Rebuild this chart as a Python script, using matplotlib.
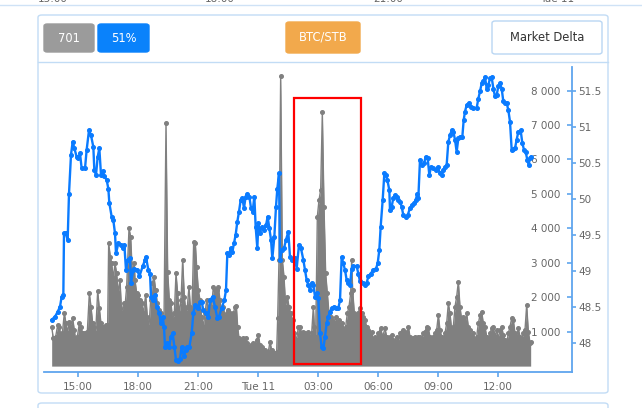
import matplotlib
matplotlib.use('Agg')
import matplotlib.pyplot as plt
import matplotlib.dates as mdates
from matplotlib.patches import FancyBboxPatch, Rectangle
from matplotlib.lines import Line2D
from datetime import datetime, timedelta

plt.rcParams['font.family'] = ['DejaVu Sans']

# ---------------- data ----------------
start = datetime(2024, 6, 10, 13, 40)

price_min = [1,11,19,26,31,36,38,43,49,53,59,64,69,76,81,86,91,101,106,113,119,126,129,134,139,144,149,154,159,166,171,174,181,186,191,194,201,209,214,219,224,229,236,239,246,
248,258,264,274,281,284,291,296,299,306,311,316,324,328,334,338,341,346,354,358,364,369,374,381,386,391,398,403,408,414,421,426,431,436,441,446,451,456,464,471,476,484,491,498,
503,511,519,524,528,533,538,543,548,553,558,563,568,573,578,583,588,594,599,604,609,613,618,621,626,631,638,644,649,654,659,663,669,674,678,683,686,691,698,704,711,716,723,731,736,743,749,
756,761,766,771,776,781,786,791,796,801,806,811,816,821,826,831,836,841,848,854,861,866,871,876,881,886,891,896,901,906,916,921,926,934,941,946,951,958,966,974,979,984,988,994,999,1004,1008,1014,
1016,1021,1026,1031,1036,1041,1046,1051,1056,1063,1069,1076,1081,1088,1093,1098,1101,1106,1111,1118,1123,1129,1134,1139,1146,1153,1159,1166,1171,1176,1181,1186,1191,1196,1201,1206,1211,1216,1221,1226,1233,1237,1241,1246,1253,1259,1266,1276,
1281,1286,1291,1296,1301,1306,1311,1316,1321,1326,1331,1336,1341,1346,1351,1356,1361,1366,1371,1376,1381,1386,1391,1396,1401,1408,1413,1418,1423,1428,1432,1436,1439]

price_val = [48.32,48.36,48.43,48.50,48.64,48.66,49.52,49.52,49.43,50.07,50.61,50.79,50.70,50.58,50.56,50.63,50.42,50.42,50.68,50.95,50.88,50.72,50.40,50.33,50.58,50.70,50.33,50.38,50.31,50.26,50.14,49.94,49.75,49.70,49.52,49.24,49.38,49.36,49.31,49.36,49.01,49.15,49.17,48.83,49.01,
49.03,49.01,48.92,49.06,49.15,49.19,49.01,48.96,48.64,48.59,48.66,48.50,48.41,48.27,48.36,48.22,47.94,47.99,47.94,48.08,48.13,47.94,47.76,47.74,47.78,47.94,47.81,47.90,47.94,47.94,48.13,48.41,48.52,48.50,48.48,48.57,48.57,48.45,48.41,48.36,48.59,48.64,48.50,48.34,
48.36,48.48,48.59,48.73,49.24,49.22,49.31,49.26,49.38,49.50,49.68,49.82,49.98,50.01,49.87,50.03,50.07,50.03,49.87,49.82,50.03,49.61,49.31,49.66,49.52,49.61,49.57,49.63,49.75,49.59,49.43,49.17,49.47,49.89,50.14,50.35,49.15,49.29,49.31,49.43,49.54,49.19,49.15,49.17,49.03,49.36,49.31,
49.15,49.01,48.87,48.80,48.73,48.83,48.80,48.64,48.69,48.62,48.13,47.94,47.92,48.08,48.27,48.36,48.43,48.48,48.50,48.48,48.48,48.59,49.19,49.10,49.01,48.87,48.83,48.80,49.03,49.06,49.06,48.96,48.85,48.83,48.80,48.83,48.92,48.96,49.01,49.03,49.10,49.29,49.61,49.98,50.35,50.33,50.26,50.12,
49.84,49.89,50.01,50.05,50.03,49.98,49.96,49.89,49.77,49.75,49.77,49.87,49.91,49.94,49.98,50.07,50.01,50.54,50.47,50.49,50.58,50.56,50.33,50.44,50.42,50.40,50.44,50.35,50.33,50.40,50.44,50.47,50.79,50.88,50.95,50.93,50.82,50.65,50.84,50.86,50.86,51.09,51.21,51.30,51.33,51.28,51.26,51.26,
51.39,51.49,51.60,51.63,51.69,51.53,51.58,51.67,51.69,51.53,51.42,51.44,51.56,51.60,51.53,51.35,51.33,51.33,51.23,51.07,50.68,50.69,50.70,50.82,50.93,50.95,50.77,50.68,50.65,50.54,50.47,50.56,50.58]

vol_min = [1,6,13,19,24,29,33,39,44,49,53,58,64,69,73,78,84,89,94,101,108,114,119,124,129,133,139,144,149,156,163,169,172,177,181,186,191,196,201,206,211,217,221,226,233,238,243,249,
251,256,261,266,271,276,283,288,293,298,303,308,313,318,323,328,333,338,344,349,354,359,364,369,374,379,384,389,394,399,404,408,413,417,422,427,432,436,441,446,451,456,461,466,471,476,481,486,
491,496,501,506,511,516,521,526,531,536,541,546,551,555,559,563,569,576,583,588,594,599,604,609,616,621,626,631,636,641,646,651,656,661,666,671,676,679,683,688,693,698,703,708,713,718,724,729,736,741,
746,751,756,761,766,771,776,781,786,789,793,798,803,808,813,818,823,828,833,838,843,848,853,858,863,868,873,878,883,888,893,898,901,904,909,914,919,926,931,936,941,946,951,956,961,966,971,976,981,988,994,
1001,1006,1011,1016,1021,1026,1031,1036,1041,1046,1051,1056,1061,1066,1071,1076,1081,1086,1091,1096,1101,1106,1111,1116,1121,1126,1131,1136,1141,1146,1151,1156,1161,1166,1171,1176,1181,1186,1191,1196,1201,1206,1211,1216,1221,1226,1231,1236,1241,1246,1251,
1256,1261,1266,1271,1276,1281,1286,1291,1296,1301,1306,1311,1316,1321,1326,1331,1336,1341,1346,1351,1356,1361,1366,1371,1376,1381,1386,1391,1396,1401,1406,1411,1416,1421,1426,1431,1436,1438]

vol_val = [1145,806,854,1193,1145,854,951,1532,1242,951,1290,1145,1387,1048,758,854,1242,1145,951,951,1000,2113,1726,1242,1145,951,2181,1677,1242,1145,1193,1193,3565,3178,2984,2549,2984,2694,2113,2500,1532,1823,1726,2307,3999,3759,2694,2984,
2500,2113,2065,1919,1823,1532,2065,1435,1145,1919,2404,2597,2210,1823,1629,1532,1339,1339,7069,2742,1919,1823,1339,1532,2694,2113,1532,1919,3081,2016,1532,1726,2307,1726,1629,3613,3565,2887,2210,1919,1435,1145,1532,1919,1629,1919,1726,2307,
2200,2210,2307,1919,1532,1726,1435,1532,1629,1532,1435,1532,1726,1745,1145,806,758,806,806,661,564,613,661,613,758,903,613,564,467,467,371,419,709,467,371,371,419,1387,3081,8424,3081,2597,1726,2016,1726,1532,1339,951,758,1145,
1145,951,1000,951,854,1000,854,951,1726,1145,854,4339,4823,5114,7369,4630,2694,2113,1532,1435,1339,1242,1435,1242,1339,1145,1242,1048,1145,1532,1726,2113,3081,2210,1532,1435,1532,1677,1532,1435,1339,1145,1048,951,1000,758,854,806,951,1097,854,
1097,854,758,854,903,758,709,854,709,951,1000,1048,1000,951,1145,854,758,806,854,806,854,854,758,951,1000,1145,1097,854,709,854,951,1048,1484,1048,854,806,951,1242,1823,1532,1048,1145,1726,2016,2452,1726,1339,1435,1242,1532,1145,
1048,854,951,758,854,1242,1484,1581,1242,1145,854,758,951,1097,1145,854,1048,806,1048,1145,903,758,661,951,1145,1387,1339,951,854,1097,854,758,951,1048,1774,1000,681,710]

vol_ticks = [1000, 2000, 3000, 4000, 5000, 6000, 7000, 8000]
vol_tick_labels = ["1 000", "2 000", "3 000", "4 000", "5 000", "6 000", "7 000", "8 000"]
price_ticks = [48, 48.5, 49, 49.5, 50, 50.5, 51, 51.5]
price_tick_labels = ["48", "48.5", "49", "49.5", "50", "50.5", "51", "51.5"]
x_tick_min = [80, 260, 440, 620, 800, 980, 1160, 1340]
x_tick_labels = ["15:00", "18:00", "21:00", "Tue 11", "03:00", "06:00", "09:00", "12:00"]
buttons = ["701", "51%", "BTC/STB", "Market Delta"]
top_labels = ["15:00", "18:00", "21:00", "Tue 11"]

# ---------------- figure ----------------
W, H = 642, 408
fig = plt.figure(figsize=(W / 100, H / 100), dpi=100)

def fx(px):
    return px / W

def fy(py):
    return 1 - py / H

blue_axis = '#5fa5ee'
grey_txt = '#666666'
card_ec = '#c2dcf5'

def tm(m):
    return [start + timedelta(minutes=x) for x in m]

# cards
card = FancyBboxPatch((fx(38), fy(393)), fx(608 - 38), (393 - 15) / H,
                      boxstyle='round,pad=0,rounding_size=0.006', transform=fig.transFigure,
                      fc='white', ec=card_ec, lw=1.0, zorder=-5)
fig.patches.append(card)
card2 = FancyBboxPatch((fx(38), fy(425)), fx(608 - 38), (425 - 403) / H,
                       boxstyle='round,pad=0,rounding_size=0.006', transform=fig.transFigure,
                       fc='white', ec=card_ec, lw=1.0, zorder=-5)
fig.patches.append(card2)
fig.add_artist(Line2D([fx(38), fx(608)], [fy(62), fy(62)], transform=fig.transFigure,
                      color=card_ec, lw=1.0, zorder=-4))

# remnant of previous chart at very top (cut off by the frame, as in the reference)
fig.add_artist(Line2D([0, 1], [fy(5), fy(5)], transform=fig.transFigure, color='#cfe2f6', lw=1.0))
for lab, px in zip(top_labels, [53, 220, 388, 557]):
    fig.text(fx(px), fy(2.3), lab, ha='center', va='baseline', fontsize=7.5, color=grey_txt)

# buttons
btn_geom = [(44, 24, 94, 52, '#9b9b9b', 'white', None),
            (98, 24, 149, 52, '#0a82fb', 'white', None),
            (286, 22, 360, 53, '#f2a94c', 'white', None),
            (492, 21, 602, 54, 'white', '#333333', '#b9d6f3')]
for lab, (x0, y0, x1, y1, fc, tc, ec) in zip(buttons, btn_geom):
    p = FancyBboxPatch((fx(x0), fy(y1)), fx(x1 - x0), (y1 - y0) / H,
                       boxstyle='round,pad=0,rounding_size=0.005', transform=fig.transFigure,
                       fc=fc, ec=(ec if ec else fc), lw=1.0, zorder=2)
    fig.patches.append(p)
    fig.text(fx((x0 + x1) / 2), fy((y0 + y1) / 2), lab, ha='center', va='center',
             fontsize=8.3, color=tc, zorder=3)

# ---------------- axes ----------------
ax = fig.add_axes([fx(43.5), fy(372), fx(572 - 43.5), (372 - 67) / H])
ax.patch.set_visible(False)
vt = tm(vol_min)
ax.fill_between(vt, vol_val, 0, color='#808080', lw=0, zorder=1)
ax.plot(vt, vol_val, color='#808080', lw=1.0, marker='o', ms=2.6, zorder=2)
ax.set_ylim(-171, 8686)
ax.set_xlim(mdates.date2num(start - timedelta(minutes=23.5)),
            mdates.date2num(start + timedelta(minutes=1562)))

ax2 = ax.twinx()
ax2.patch.set_visible(False)
pt = tm(price_min)
ax2.plot(pt, price_val, color='#0a7bff', lw=1.7, marker='o', ms=2.6, zorder=3)
ax2.set_ylim(47.593, 51.829)

for s in ['left', 'top', 'right']:
    ax.spines[s].set_visible(False)
ax.spines['bottom'].set_color(blue_axis)
ax.spines['bottom'].set_linewidth(1.3)

ax.set_xticks([mdates.date2num(t) for t in tm(x_tick_min)])
ax.set_xticklabels(x_tick_labels)
ax.tick_params(axis='x', direction='out', length=3.5, width=1.2, color=blue_axis,
               labelsize=7.5, labelcolor=grey_txt, pad=4)

# volume axis: ticks/labels on the right spine, pointing inwards, labels inside
ax.yaxis.set_ticks_position('right')
ax.set_yticks(vol_ticks)
ax.set_yticklabels(vol_tick_labels)
ax.tick_params(axis='y', left=False, right=True, labelleft=False, labelright=True,
               direction='in', length=3.8, width=1.2, color=blue_axis,
               labelsize=7.5, labelcolor=grey_txt, pad=-8.6)
for tick in ax.yaxis.get_major_ticks():
    tick.label2.set_horizontalalignment('right')

for s in ['left', 'top', 'bottom']:
    ax2.spines[s].set_visible(False)
ax2.spines['right'].set_color(blue_axis)
ax2.spines['right'].set_linewidth(1.3)
ax2.set_yticks(price_ticks)
ax2.set_yticklabels(price_tick_labels)
ax2.tick_params(axis='y', direction='out', length=3.2, width=1.2, color=blue_axis,
                labelsize=7.5, labelcolor=grey_txt, pad=1.5)

# highlight box
fig.patches.append(Rectangle((fx(294), fy(364)), fx(361 - 294), (364 - 98) / H,
                             transform=fig.transFigure, fill=False, ec='#ff0000', lw=1.6, zorder=10))

fig.savefig('out.png', dpi=100)
